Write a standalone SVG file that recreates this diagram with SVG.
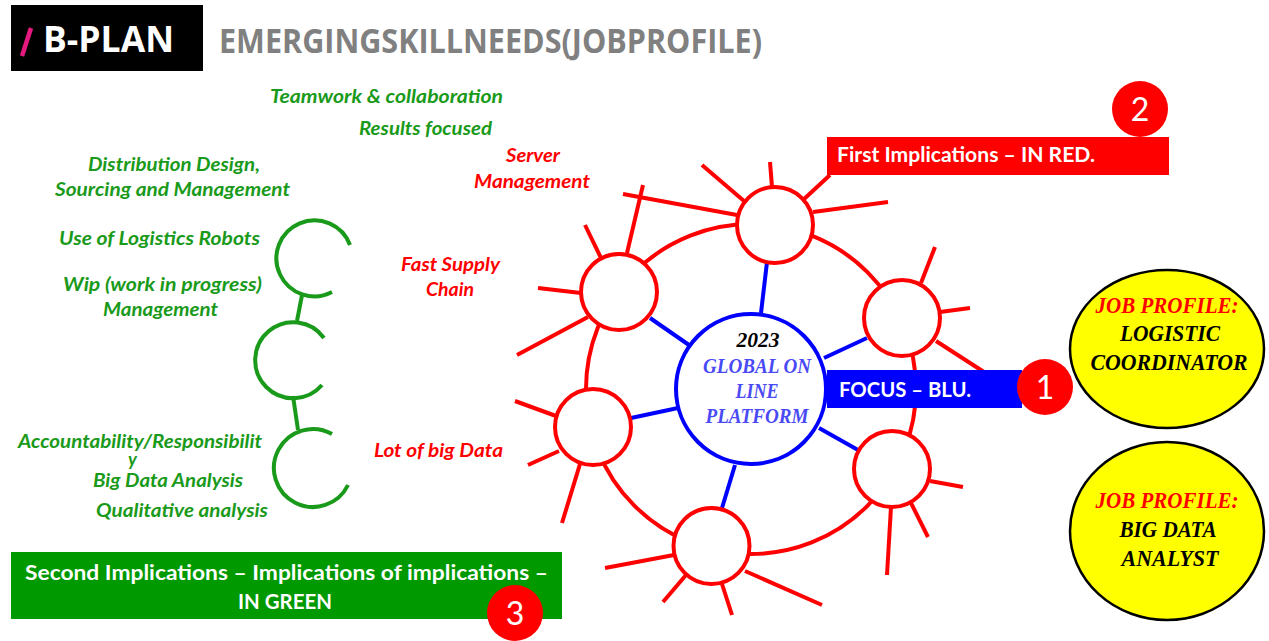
<svg xmlns="http://www.w3.org/2000/svg" width="1269" height="641" viewBox="0 0 1269 641">
<style>
.g{font-family:Lato,"Open Sans",sans-serif;font-weight:bold;font-style:italic;font-size:18px;fill:#1a9a1a}
.r{font-family:Lato,"Open Sans",sans-serif;font-weight:bold;font-style:italic;font-size:18px;fill:#ff0000}
.w{font-family:Lato,"Open Sans",sans-serif;font-weight:bold;font-size:20px;fill:#ffffff}
.num{font-family:Lato,"Open Sans",sans-serif;font-size:32px;fill:#ffffff;text-anchor:middle}
.sj{font-family:"Liberation Serif","DejaVu Serif",serif;font-weight:bold;font-style:italic;font-size:23px;text-anchor:middle}
.sc{font-family:"Liberation Serif","DejaVu Serif",serif;font-weight:bold;font-style:italic;font-size:20px;text-anchor:middle}
.ray{stroke:#ff0000;stroke-width:4;fill:none}
.spoke{stroke:#0000ff;stroke-width:4;fill:none}
.node{stroke:#ff0000;stroke-width:4;fill:#ffffff}
.cc{stroke:#1a9a1a;stroke-width:4;fill:none}
.badge{fill:#ff0000}
</style>
<rect width="1269" height="641" fill="#ffffff"/>

<g id="header">
<rect x="11" y="5" width="192" height="66" fill="#000000"/>
<line x1="31" y1="28" x2="22" y2="56" stroke="#e6197f" stroke-width="4.5"/>
<text x="43" y="52" font-family="'Open Sans',Lato,sans-serif" font-weight="bold" font-size="35" fill="#ffffff" textLength="131" lengthAdjust="spacingAndGlyphs">B-PLAN</text>
<text x="219" y="53" font-family="'Open Sans',Lato,sans-serif" font-weight="bold" font-size="34" fill="#808080" textLength="543" lengthAdjust="spacingAndGlyphs">EMERGINGSKILLNEEDS(JOBPROFILE)</text>
</g>

<g id="connectors">
<circle cx="751" cy="389" r="165" class="ray"/>
<line x1="772" y1="187" x2="770" y2="162" class="ray"/>
<line x1="744" y1="201" x2="702" y2="165" class="ray"/>
<line x1="737" y1="215" x2="623" y2="194" class="ray"/>
<line x1="813" y1="212" x2="888" y2="202" class="ray"/>
<polyline points="803,200 830,175" class="ray"/>
<line x1="627" y1="253" x2="643" y2="185" class="ray"/>
<line x1="601" y1="258" x2="585" y2="225" class="ray"/>
<line x1="581" y1="293" x2="538" y2="288" class="ray"/>
<line x1="588" y1="317" x2="517" y2="355" class="ray"/>
<line x1="921" y1="283" x2="935" y2="247" class="ray"/>
<line x1="940" y1="312" x2="970" y2="308" class="ray"/>
<line x1="936" y1="341" x2="984" y2="372" class="ray"/>
<line x1="556" y1="416" x2="515" y2="401" class="ray"/>
<line x1="559" y1="451" x2="528" y2="465" class="ray"/>
<line x1="580" y1="464" x2="562" y2="523" class="ray"/>
<line x1="930" y1="481" x2="963" y2="487" class="ray"/>
<line x1="911" y1="503" x2="928" y2="537" class="ray"/>
<line x1="891" y1="507" x2="887" y2="575" class="ray"/>
<line x1="674" y1="555" x2="605" y2="568" class="ray"/>
<line x1="686" y1="575" x2="663" y2="602" class="ray"/>
<line x1="722" y1="584" x2="732" y2="615" class="ray"/>
<line x1="745" y1="571" x2="822" y2="605" class="ray"/>
<line x1="761" y1="313" x2="767" y2="262" class="spoke"/>
<line x1="689" y1="345" x2="650" y2="318" class="spoke"/>
<line x1="824" y1="358" x2="867" y2="338" class="spoke"/>
<line x1="678" y1="408" x2="631" y2="418" class="spoke"/>
<line x1="819" y1="428" x2="858" y2="450" class="spoke"/>
<line x1="735" y1="465" x2="722" y2="508" class="spoke"/>
<line x1="302" y1="295" x2="297" y2="321" class="cc"/>
<line x1="293" y1="396" x2="298" y2="430" class="cc"/>
</g>

<g id="node-top"><circle cx="775" cy="225" r="38" class="node"/></g>
<g id="node-upper-left"><circle cx="619" cy="292" r="38" class="node"/></g>
<g id="node-right-upper"><circle cx="902" cy="318" r="38" class="node"/></g>
<g id="node-left-lower"><circle cx="593" cy="427" r="38" class="node"/></g>
<g id="node-right-lower"><circle cx="892" cy="469" r="38" class="node"/></g>
<g id="node-bottom"><circle cx="711.5" cy="546" r="38" class="node"/></g>

<g id="node-center">
<circle cx="751" cy="389" r="75" fill="#ffffff" stroke="#0000ff" stroke-width="4"/>
<text x="758" y="347" class="sc" fill="#000000" textLength="43" lengthAdjust="spacingAndGlyphs">2023</text>
<text x="757" y="373" class="sc" fill="#4a4af5" textLength="108" lengthAdjust="spacingAndGlyphs">GLOBAL ON</text>
<text x="757" y="398" class="sc" fill="#4a4af5" textLength="43" lengthAdjust="spacingAndGlyphs">LINE</text>
<text x="757" y="423" class="sc" fill="#4a4af5" textLength="103" lengthAdjust="spacingAndGlyphs">PLATFORM</text>
</g>

<g id="first-implications">
<rect x="827" y="137" width="342" height="38" fill="#ff0000"/>
<text x="837" y="162" class="w" textLength="258" lengthAdjust="spacingAndGlyphs">First Implications – IN RED.</text>
<circle cx="1140" cy="109" r="28" class="badge"/>
<text x="1140" y="121" class="num">2</text>
</g>

<g id="focus">
<rect x="827" y="370" width="195" height="38" fill="#0000ff"/>
<text x="839" y="397" class="w" font-size="21" textLength="132" lengthAdjust="spacingAndGlyphs">FOCUS – BLU.</text>
<circle cx="1045" cy="387" r="28" class="badge"/>
<text x="1045" y="399" class="num">1</text>
</g>

<g id="job-logistic">
<ellipse cx="1167" cy="349" rx="97" ry="79" fill="#ffff00" stroke="#000000" stroke-width="2.5"/>
<text x="1167" y="313" class="sj" fill="#ff0000" textLength="143" lengthAdjust="spacingAndGlyphs">JOB PROFILE:</text>
<text x="1170" y="341" class="sj" fill="#000000" textLength="100" lengthAdjust="spacingAndGlyphs">LOGISTIC</text>
<text x="1169" y="370" class="sj" fill="#000000" textLength="157" lengthAdjust="spacingAndGlyphs">COORDINATOR</text>
</g>

<g id="job-bigdata">
<ellipse cx="1167" cy="531" rx="97" ry="89" fill="#ffff00" stroke="#000000" stroke-width="2.5"/>
<text x="1167" y="508" class="sj" fill="#ff0000" textLength="143" lengthAdjust="spacingAndGlyphs">JOB PROFILE:</text>
<text x="1168" y="537" class="sj" fill="#000000" textLength="97" lengthAdjust="spacingAndGlyphs">BIG DATA</text>
<text x="1170" y="566" class="sj" fill="#000000" textLength="97" lengthAdjust="spacingAndGlyphs">ANALYST</text>
</g>

<g id="second-implications">
<rect x="11" y="552" width="551" height="67" fill="#009900"/>
<text x="25" y="580" class="w" textLength="523" lengthAdjust="spacingAndGlyphs">Second  Implications – Implications of implications –</text>
<text x="238" y="609" class="w" textLength="94" lengthAdjust="spacingAndGlyphs">IN GREEN</text>
<circle cx="515" cy="613" r="28" class="badge"/>
<text x="515" y="625" class="num">3</text>
</g>

<g id="chain">
<path d="M350,245 A38,38 0 1,0 332,292" class="cc"/>
<path d="M324,338 A38,38 0 1,0 322,385" class="cc"/>
<path d="M332,434 A39,39 0 1,0 348,485" class="cc"/>
</g>

<g id="green-labels">
<text x="270" y="103" class="g" textLength="233" lengthAdjust="spacingAndGlyphs">Teamwork &amp; collaboration</text>
<text x="359" y="135" class="g" textLength="133" lengthAdjust="spacingAndGlyphs">Results focused</text>
<text x="88" y="171" class="g" textLength="172" lengthAdjust="spacingAndGlyphs">Distribution Design,</text>
<text x="55" y="196" class="g" textLength="235" lengthAdjust="spacingAndGlyphs">Sourcing and Management</text>
<text x="59" y="245" class="g" textLength="201" lengthAdjust="spacingAndGlyphs">Use of  Logistics Robots</text>
<text x="63" y="291" class="g" textLength="199" lengthAdjust="spacingAndGlyphs">Wip (work in progress)</text>
<text x="103" y="316" class="g" textLength="115" lengthAdjust="spacingAndGlyphs">Management</text>
<text x="18" y="448" class="g" textLength="244" lengthAdjust="spacingAndGlyphs">Accountability/Responsibilit</text>
<text x="128" y="466" class="g" font-size="11">y</text>
<text x="93" y="487" class="g" textLength="150" lengthAdjust="spacingAndGlyphs">Big Data Analysis</text>
<text x="96" y="517" class="g" textLength="172" lengthAdjust="spacingAndGlyphs">Qualitative analysis</text>
</g>

<g id="red-labels">
<text x="506" y="162" class="r" textLength="54" lengthAdjust="spacingAndGlyphs">Server</text>
<text x="474" y="188" class="r" textLength="116" lengthAdjust="spacingAndGlyphs">Management</text>
<text x="401" y="271" class="r" textLength="99" lengthAdjust="spacingAndGlyphs">Fast Supply</text>
<text x="426" y="296" class="r" textLength="48" lengthAdjust="spacingAndGlyphs">Chain</text>
<text x="374" y="457" class="r" textLength="129" lengthAdjust="spacingAndGlyphs">Lot of big Data</text>
</g>
</svg>
